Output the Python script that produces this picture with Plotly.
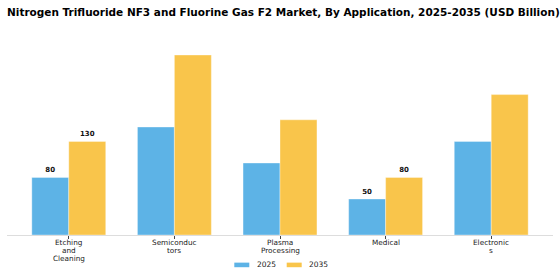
import plotly.graph_objects as go

categories = ["Etching<br>and<br>Cleaning", "Semiconduc<br>tors", "Plasma<br>Processing", "Medical", "Electronic<br>s"]
values_2025 = [80, 150, 100, 50, 130]
values_2035 = [130, 250, 160, 80, 195]
labeled = [True, False, False, True, False]
series_names = ["2025", "2035"]
colors = ["#5DB3E6", "#F9C54B"]

W, H = 560, 280
ml, mr, mt, mb = 7, 7, 45.5, 45
pw, ph = W - ml - mr, H - mt - mb

def px2paper(x, y):
    return (x - ml) / pw, (H - mb - y) / ph

fig = go.Figure()
for name, vals, col in zip(series_names, [values_2025, values_2035], colors):
    fig.add_trace(go.Bar(
        x=list(range(len(categories))), y=vals, name=name,
        marker=dict(color=col, line=dict(color="rgba(255,255,255,0.6)", width=0.6)),
        text=[str(v) if lab else "" for v, lab in zip(vals, labeled)],
        textposition="outside", cliponaxis=False,
        textfont=dict(family="DejaVu Sans", size=7, color="#111", weight="bold"),
        showlegend=False,
    ))

fig.update_layout(
    width=W, height=H,
    margin=dict(l=ml, r=mr, t=mt, b=mb),
    paper_bgcolor="white", plot_bgcolor="white",
    barmode="group", bargap=0.3, bargroupgap=0,
    font=dict(family="DejaVu Sans", color="#222"),
    title=dict(text="Nitrogen Trifluoride NF3 and Fluorine Gas F2 Market, By Application, 2025-2035 (USD Billion)",
               x=7 / W, xanchor="left", xref="container", y=1 - 12 / H, yanchor="middle", yref="container",
               font=dict(family="DejaVu Sans", size=10.5, color="#000", weight="bold")),
    xaxis=dict(range=[-0.585, 4.585], tickmode="array", tickvals=list(range(len(categories))),
               showticklabels=False, showline=True, linecolor="#dddddd", linewidth=1,
               ticks="outside", ticklen=3, tickcolor="#444", tickwidth=1,
               showgrid=False, zeroline=False),
    yaxis=dict(range=[0, 262.5], visible=False, showgrid=False, zeroline=False),
)

# category labels, line by line (tight line spacing)
for i, cat in enumerate(categories):
    for k, line in enumerate(cat.split("<br>")):
        _, ty = px2paper(0, 242.7 + 8 * k)
        fig.add_annotation(xref="x", yref="paper", x=i, y=ty, text=line, showarrow=False,
                           xanchor="center", yanchor="middle",
                           font=dict(family="DejaVu Sans", size=7.3, color="#222"))

# custom legend
legend_items = [(234.3, 255, "2025", colors[0]), (286.7, 307, "2035", colors[1])]
for x0, tx, label, col in legend_items:
    a0, b0 = px2paper(x0, 262.7)
    a1, b1 = px2paper(x0 + 15, 267.3)
    fig.add_shape(type="rect", xref="paper", yref="paper", x0=a0, x1=a1, y0=b1, y1=b0,
                  fillcolor=col, line=dict(width=0))
    ta, tb = px2paper(tx, 265)
    fig.add_annotation(xref="paper", yref="paper", x=ta, y=tb, text=label, showarrow=False,
                       xanchor="left", yanchor="middle",
                       font=dict(family="DejaVu Sans", size=7.5, color="#222"))

fig.write_html("out.html")
